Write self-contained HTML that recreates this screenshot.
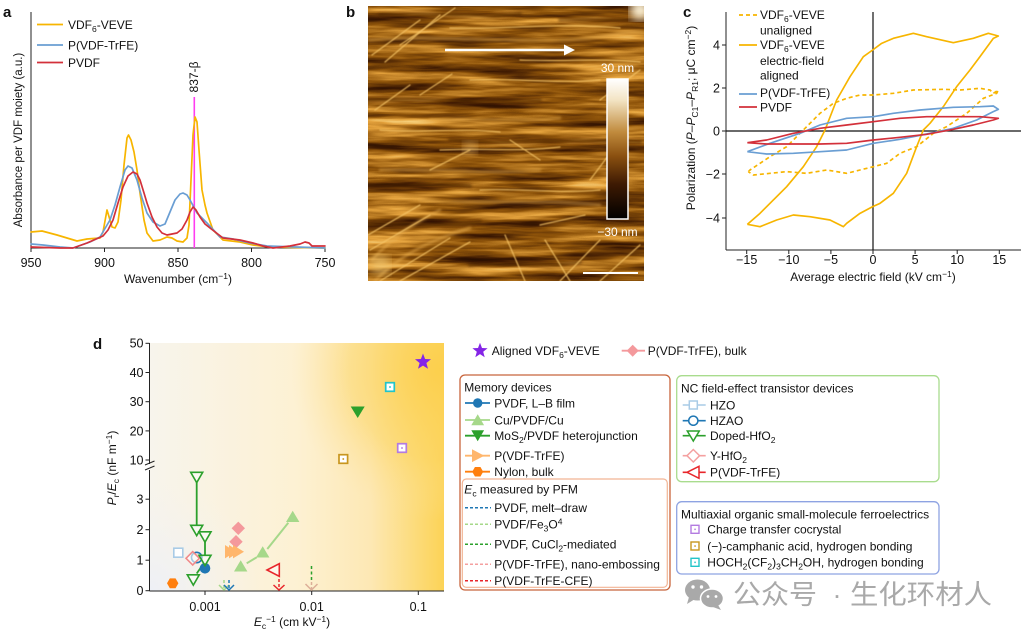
<!DOCTYPE html>
<html><head><meta charset="utf-8">
<style>
html,body{margin:0;padding:0;background:#fff;}
body{width:1026px;height:636px;overflow:hidden;}
svg{display:block;}
</style></head>
<body>
<svg width="1026" height="636" viewBox="0 0 1026 636" xmlns="http://www.w3.org/2000/svg" font-family="'Liberation Sans', Arial, sans-serif" font-size="12" fill="#111">
<defs>
  <filter id="afm" x="368" y="6" width="276" height="275" filterUnits="userSpaceOnUse" color-interpolation-filters="sRGB">
    <feTurbulence type="fractalNoise" baseFrequency="0.009 0.11" numOctaves="4" seed="7" result="n"/>
    <feColorMatrix in="n" type="matrix" values="1 0 0 0 0  1 0 0 0 0  1 0 0 0 0  0 0 0 0 1"/>
    <feComponentTransfer>
      <feFuncR type="table" tableValues="0.08 0.24 0.56 0.9 1"/>
      <feFuncG type="table" tableValues="0.02 0.10 0.33 0.64 0.9"/>
      <feFuncB type="table" tableValues="0 0.01 0.04 0.24 0.6"/>
    </feComponentTransfer>
  </filter>
  <filter id="blur1"><feGaussianBlur stdDeviation="0.6"/></filter>
  <filter id="blur2"><feGaussianBlur stdDeviation="1.2"/></filter>
  <filter id="blur6"><feGaussianBlur stdDeviation="5"/></filter>
  <clipPath id="bclip"><rect x="368" y="6" width="276" height="275"/></clipPath>
  <linearGradient id="cbar" x1="0" y1="0" x2="0" y2="1">
    <stop offset="0" stop-color="#ffffff"/>
    <stop offset="0.15" stop-color="#f3e4c4"/>
    <stop offset="0.38" stop-color="#c08a3c"/>
    <stop offset="0.55" stop-color="#8a5010"/>
    <stop offset="0.75" stop-color="#3e1a03"/>
    <stop offset="1" stop-color="#000000"/>
  </linearGradient>
  <linearGradient id="dbg" x1="0" y1="0" x2="1" y2="0">
    <stop offset="0" stop-color="#f7f4ec"/>
    <stop offset="0.5" stop-color="#fdf1d3"/>
    <stop offset="0.75" stop-color="#fde8b4"/>
    <stop offset="1" stop-color="#fcd356"/>
  </linearGradient>
  <radialGradient id="dtr" cx="440" cy="370" r="150" gradientUnits="userSpaceOnUse">
    <stop offset="0" stop-color="#fccf4c" stop-opacity="0.95"/>
    <stop offset="0.6" stop-color="#fcd562" stop-opacity="0.5"/>
    <stop offset="1" stop-color="#fde3a0" stop-opacity="0"/>
  </radialGradient>
  <radialGradient id="dbl" cx="150" cy="591" r="110" gradientUnits="userSpaceOnUse">
    <stop offset="0" stop-color="#eef0f6" stop-opacity="1"/>
    <stop offset="1" stop-color="#f4f2ee" stop-opacity="0"/>
  </radialGradient>
</defs>

<!-- ================= PANEL A ================= -->
<text x="3" y="17" font-weight="bold" font-size="15">a</text>
<text transform="translate(22,140) rotate(-90)" text-anchor="middle" font-size="11.5">Absorbance per VDF moiety (a.u.)</text>
<line x1="31" y1="12" x2="31" y2="248" stroke="#222" stroke-width="1"/>
<line x1="31" y1="248" x2="325" y2="248" stroke="#222" stroke-width="1"/>
<g stroke="#222" stroke-width="1">
  <line x1="31" y1="248" x2="31" y2="252"/>
  <line x1="104.5" y1="248" x2="104.5" y2="252"/>
  <line x1="178" y1="248" x2="178" y2="252"/>
  <line x1="251.5" y1="248" x2="251.5" y2="252"/>
  <line x1="325" y1="248" x2="325" y2="252"/>
</g>
<g text-anchor="middle" font-size="12.5">
  <text x="31" y="267">950</text>
  <text x="104.5" y="267">900</text>
  <text x="178" y="267">850</text>
  <text x="251.5" y="267">800</text>
  <text x="325" y="267">750</text>
</g>
<text x="178" y="283" text-anchor="middle">Wavenumber (cm<tspan dy="-4" font-size="8.5">−1</tspan><tspan dy="4">)</tspan></text>

<line x1="194.3" y1="97" x2="194.3" y2="248" stroke="#ff3df0" stroke-width="1.6"/>
<text transform="translate(198,77) rotate(-90)" text-anchor="middle" font-size="12">837-β</text>

<g fill="none" stroke-width="1.7" stroke-linejoin="round" stroke-linecap="round">
<polyline stroke="#f7b500" points="31,232 42,231 57,235 77,241 87,239 100,238 103,232 107,210 110,220 112,227 115,228 118,222 121,200 124,165 127,138 128.5,135 131,140 134,152 137,170 140,193 144,220 147,233 153,241 160,240 167,237 172,238 177,241 183,242 187,238 189,225 191,180 193,135 195,117 197,122 199,150 202,190 205,205 207,213 213,230 223,240 240,242 253,245 270,247 325,248"/>
<polyline stroke="#6a9ed3" points="31,244 43,245 60,247 73,248 90,242 100,237 110,220 115,205 120,187 125,170 128,166 132,168 137,180 142,198 147,213 153,222 160,226 165,224 170,212 175,200 180,194 183,193 187,195 190,200 197,213 207,223 220,237 233,239 250,243 267,246 325,248"/>
<polyline stroke="#d3303a" points="31,247 60,248 73,248 87,243 103,236 108,230 113,220 118,203 123,187 128,176 133,172 137,174 140,180 144,193 147,203 152,217 157,227 162,233 167,235 172,234 177,233 182,229 187,220 190,212 193,207 196,210 200,217 205,224 210,228 223,238 240,240 253,243 263,246 273,248 290,246 300,244 305,242 309,243 312,246 325,246"/>
</g>
<g stroke-width="1.8">
  <line x1="37" y1="24.5" x2="63" y2="24.5" stroke="#f7b500"/>
  <line x1="37" y1="45" x2="63" y2="45" stroke="#6a9ed3"/>
  <line x1="37" y1="62.5" x2="63" y2="62.5" stroke="#d3303a"/>
</g>
<text x="68" y="29">VDF<tspan dy="3" font-size="8.5">6</tspan><tspan dy="-3">-VEVE</tspan></text>
<text x="68" y="49.3">P(VDF-TrFE)</text>
<text x="68" y="66.8">PVDF</text>

<!-- ================= PANEL B ================= -->
<text x="346" y="17" font-weight="bold" font-size="15">b</text>
<rect x="368" y="6" width="276" height="275" fill="#8a5208"/>
<rect x="368" y="6" width="276" height="275" filter="url(#afm)"/>
<g clip-path="url(#bclip)" fill="none" stroke-linecap="round">
  <g stroke="#4a2404" stroke-opacity="0.5" stroke-width="4" filter="url(#blur2)">
    <path d="M368,100 C420,98 480,104 540,100"/>
    <path d="M450,140 C500,145 560,138 640,142"/>
    <path d="M368,225 C400,222 440,228 480,222"/>
    <path d="M560,20 C590,18 620,22 644,18"/>
    <path d="M380,15 C430,12 480,18 520,14"/>
    <path d="M470,265 C500,262 540,268 580,262"/>
    <path d="M368,185 C400,188 430,182 470,186"/>
  </g>
  <g stroke="#e8ac4c" stroke-opacity="0.6" stroke-width="2.6" filter="url(#blur2)">
    <path d="M368,40 C420,35 500,42 560,40 S620,30 644,32"/>
    <path d="M430,120 C470,118 520,122 560,118"/>
    <path d="M380,170 C430,168 480,175 540,170"/>
    <path d="M420,200 C470,205 530,198 600,205"/>
    <path d="M372,260 C390,240 410,225 440,210"/>
    <path d="M375,281 C400,255 430,240 470,228"/>
  </g>
  <g stroke="#f6c466" stroke-opacity="0.8" stroke-width="1.3" filter="url(#blur1)">
    <path d="M372,55 L420,20"/>
    <path d="M385,62 L440,15"/>
    <path d="M400,45 L455,8"/>
    <path d="M450,28 C500,30 560,22 620,28"/>
    <path d="M375,110 L410,85"/>
    <path d="M420,95 L452,74"/>
    <path d="M440,150 C480,148 520,152 560,147"/>
    <path d="M590,180 L620,140"/>
    <path d="M368,235 L420,205"/>
    <path d="M370,250 L430,215"/>
    <path d="M380,281 L450,238"/>
    <path d="M400,281 L470,242"/>
    <path d="M505,235 L525,281"/>
    <path d="M545,240 L570,281"/>
    <path d="M560,281 L600,240"/>
    <path d="M600,281 L640,245"/>
    <path d="M470,80 C520,78 560,84 600,80"/>
    <path d="M380,130 C420,133 460,128 500,132"/>
    <path d="M480,190 C520,188 560,194 600,190"/>
    <path d="M520,60 C560,62 600,58 640,62"/>
    <path d="M540,225 L585,215"/>
    <path d="M430,170 L470,150"/>
    <path d="M600,100 L640,70"/>
    <path d="M510,140 L540,160"/>
  </g>
  <circle cx="640" cy="10" r="10" fill="#fff6dc" filter="url(#blur6)"/>
  <circle cx="380" cy="265" r="10" fill="#f2c770" fill-opacity="0.7" filter="url(#blur6)"/>
  <circle cx="470" cy="148" r="7" fill="#e8b868" fill-opacity="0.6" filter="url(#blur6)"/>
</g>
<line x1="445" y1="50" x2="566" y2="50" stroke="#fff" stroke-width="2.5"/>
<polygon points="564,44.5 575,50 564,55.5" fill="#fff"/>
<rect x="607" y="79" width="21" height="140" fill="url(#cbar)" stroke="#fff" stroke-width="1.5"/>
<text x="617.5" y="72" text-anchor="middle" fill="#fff">30 nm</text>
<text x="617.5" y="236" text-anchor="middle" fill="#fff">−30 nm</text>
<line x1="583" y1="273" x2="638" y2="273" stroke="#fff" stroke-width="2"/>

<!-- ================= PANEL C ================= -->
<text x="683" y="17" font-weight="bold" font-size="15">c</text>
<text transform="translate(695,118) rotate(-90)" text-anchor="middle" font-size="12">Polarization (<tspan font-style="italic">P</tspan>–<tspan font-style="italic">P</tspan><tspan dy="3" font-size="8.5">C1</tspan><tspan dy="-3">–</tspan><tspan font-style="italic">P</tspan><tspan dy="3" font-size="8.5">R1</tspan><tspan dy="-3">; μC cm</tspan><tspan dy="-4" font-size="8.5">−2</tspan><tspan dy="4">)</tspan></text>
<line x1="726" y1="12" x2="726" y2="250" stroke="#222"/>
<line x1="726" y1="250" x2="1021" y2="250" stroke="#222"/>
<line x1="726" y1="131" x2="1021" y2="131" stroke="#111" stroke-width="1.2"/>
<line x1="873" y1="12" x2="873" y2="250" stroke="#111" stroke-width="1.2"/>
<g stroke="#222">
  <line x1="722" y1="45" x2="726" y2="45"/>
  <line x1="722" y1="88" x2="726" y2="88"/>
  <line x1="722" y1="131" x2="726" y2="131"/>
  <line x1="722" y1="174" x2="726" y2="174"/>
  <line x1="722" y1="218" x2="726" y2="218"/>
  <line x1="746.7" y1="250" x2="746.7" y2="254"/>
  <line x1="788.8" y1="250" x2="788.8" y2="254"/>
  <line x1="830.9" y1="250" x2="830.9" y2="254"/>
  <line x1="873" y1="250" x2="873" y2="254"/>
  <line x1="915.1" y1="250" x2="915.1" y2="254"/>
  <line x1="957.2" y1="250" x2="957.2" y2="254"/>
  <line x1="999.3" y1="250" x2="999.3" y2="254"/>
</g>
<g text-anchor="end" font-size="12.5">
  <text x="720" y="49.5">4</text>
  <text x="720" y="92.5">2</text>
  <text x="720" y="135.5">0</text>
  <text x="720" y="178.5">−2</text>
  <text x="720" y="222.5">−4</text>
</g>
<g text-anchor="middle" font-size="12.5">
  <text x="746.7" y="264">−15</text>
  <text x="788.8" y="264">−10</text>
  <text x="830.9" y="264">−5</text>
  <text x="873" y="264">0</text>
  <text x="915.1" y="264">5</text>
  <text x="957.2" y="264">10</text>
  <text x="999.3" y="264">15</text>
</g>
<text x="873" y="281" text-anchor="middle">Average electric field (kV cm<tspan dy="-4" font-size="8.5">−1</tspan><tspan dy="4">)</tspan></text>

<g transform="translate(660,0) scale(0.33333)" fill="none" stroke-linejoin="round" stroke-width="5">
  <polyline stroke="#f7b500" stroke-dasharray="12,9" points="265,515 270,510 330,470 380,440 430,390 480,340 520,310 560,295 600,285 640,285 700,280 760,270 850,268 900,270 960,265 990,270 1000,280 1015,270 1010,280 970,295 920,340 860,380 820,400 770,440 720,460 680,490 640,500 600,510 560,520 500,510 440,520 380,515 330,520 280,525 265,515"/>
  <polyline stroke="#f7b500" points="262,673 300,640 380,560 430,500 470,440 495,390 530,300 570,230 610,170 638,150 665,130 700,115 760,100 800,110 880,128 940,115 985,100 1015,108 1000,115 960,170 930,210 890,260 850,320 810,370 790,390 770,440 740,520 700,580 660,610 638,620 600,640 560,670 550,680 510,660 450,650 400,645 350,660 300,680 262,673"/>
  <polyline stroke="#6a9ed3" points="262,455 330,430 420,400 480,375 560,355 640,350 700,340 780,330 880,322 960,320 1000,318 1015,328 1000,335 950,360 880,385 800,402 720,418 640,430 560,450 480,455 400,460 320,462 262,455"/>
  <polyline stroke="#d3303a" points="262,428 320,420 400,400 480,385 560,375 640,365 720,355 800,350 880,350 960,350 1015,355 1000,360 940,375 880,388 800,403 720,412 640,420 560,430 480,432 400,432 320,432 262,428"/>
</g>
<g stroke-width="1.8">
  <line x1="739" y1="15" x2="757" y2="15" stroke="#f7b500" stroke-dasharray="4,3"/>
  <line x1="739" y1="45" x2="757" y2="45" stroke="#f7b500"/>
  <line x1="739" y1="94" x2="757" y2="94" stroke="#6a9ed3"/>
  <line x1="739" y1="107" x2="757" y2="107" stroke="#d3303a"/>
</g>
<text x="760" y="19">VDF<tspan dy="3" font-size="8.5">6</tspan><tspan dy="-3">-VEVE</tspan></text>
<text x="760" y="34.5">unaligned</text>
<text x="760" y="49">VDF<tspan dy="3" font-size="8.5">6</tspan><tspan dy="-3">-VEVE</tspan></text>
<text x="760" y="65">electric-field</text>
<text x="760" y="79.5">aligned</text>
<text x="760" y="97">P(VDF-TrFE)</text>
<text x="760" y="111.5">PVDF</text>

<!-- ================= PANEL D ================= -->
<text x="93" y="349" font-weight="bold" font-size="15">d</text>
<rect x="150" y="343" width="294" height="248" fill="url(#dbg)"/>
<rect x="150" y="343" width="294" height="248" fill="url(#dtr)"/>
<rect x="150" y="343" width="294" height="248" fill="url(#dbl)"/>

<g stroke="#222">
  <line x1="149.5" y1="343" x2="149.5" y2="464"/>
  <line x1="149.5" y1="470" x2="149.5" y2="591"/>
  <line x1="149.5" y1="591" x2="444" y2="591"/>
  <line x1="145" y1="465" x2="154.5" y2="461"/>
  <line x1="145" y1="470" x2="154.5" y2="466"/>
  <line x1="145.5" y1="343.3" x2="149.5" y2="343.3"/>
  <line x1="145.5" y1="372.5" x2="149.5" y2="372.5"/>
  <line x1="145.5" y1="401.7" x2="149.5" y2="401.7"/>
  <line x1="145.5" y1="430.9" x2="149.5" y2="430.9"/>
  <line x1="145.5" y1="460" x2="149.5" y2="460"/>
  <line x1="145.5" y1="499.2" x2="149.5" y2="499.2"/>
  <line x1="145.5" y1="529.7" x2="149.5" y2="529.7"/>
  <line x1="145.5" y1="560.2" x2="149.5" y2="560.2"/>
  <line x1="145.5" y1="590.7" x2="149.5" y2="590.7"/>
  <line x1="205" y1="591" x2="205" y2="595"/>
  <line x1="311.7" y1="591" x2="311.7" y2="595"/>
  <line x1="418.3" y1="591" x2="418.3" y2="595"/>
</g>
<g text-anchor="end" font-size="12.5">
  <text x="143.5" y="347.7">50</text>
  <text x="143.5" y="376.9">40</text>
  <text x="143.5" y="406.1">30</text>
  <text x="143.5" y="435.3">20</text>
  <text x="143.5" y="464.4">10</text>
  <text x="143.5" y="503.6">3</text>
  <text x="143.5" y="534.1">2</text>
  <text x="143.5" y="564.6">1</text>
  <text x="143.5" y="595.1">0</text>
</g>
<g text-anchor="middle" font-size="12.5">
  <text x="205" y="611">0.001</text>
  <text x="311.7" y="611">0.01</text>
  <text x="418.3" y="611">0.1</text>
</g>
<text x="292" y="626" text-anchor="middle"><tspan font-style="italic">E</tspan><tspan dy="3" font-size="8.5">c</tspan><tspan dy="-7" font-size="8.5">−1</tspan><tspan dy="4"> (cm kV</tspan><tspan dy="-4" font-size="8.5">−1</tspan><tspan dy="4">)</tspan></text>
<text transform="translate(116,468) rotate(-90)" text-anchor="middle"><tspan font-style="italic">P</tspan><tspan dy="3" font-size="8.5">r</tspan><tspan dy="-3">/</tspan><tspan font-style="italic">E</tspan><tspan dy="3" font-size="8.5">c</tspan><tspan dy="-3"> (nF m</tspan><tspan dy="-4" font-size="8.5">−1</tspan><tspan dy="4">)</tspan></text>

<!-- upper markers -->
<polygon points="423,353.5 425.1,359 431,359.3 426.4,363 428,368.8 423,365.6 418,368.8 419.6,363 415,359.3 420.9,359" fill="#8424e6"/>
<rect x="385.7" y="382.7" width="8.6" height="8.6" fill="#fff" stroke="#22c4c8" stroke-width="1.7"/><rect x="389.2" y="386.2" width="1.6" height="1.6" fill="#22c4c8"/>
<polygon points="350.7,406.5 364.7,406.5 357.7,418" fill="#2ca02c"/>
<rect x="397.7" y="443.7" width="8.6" height="8.6" fill="#fff" stroke="#b37be0" stroke-width="1.7"/><rect x="401.2" y="447.2" width="1.6" height="1.6" fill="#b37be0"/>
<rect x="339" y="454.7" width="8.6" height="8.6" fill="#fff" stroke="#c8961e" stroke-width="1.7"/><rect x="342.5" y="458.2" width="1.6" height="1.6" fill="#c8961e"/>

<!-- lower markers -->
<g stroke="#2ca02c" stroke-width="1.8" fill="none">
  <line x1="196.7" y1="482" x2="196.7" y2="526"/>
  <line x1="205" y1="542" x2="205" y2="556"/>
  <line x1="196.7" y1="573.5" x2="203.3" y2="564"/>
</g>
<rect x="173.8" y="548.2" width="9" height="9" fill="#fff" stroke="#a9cbe6" stroke-width="1.6"/>
<circle cx="196.7" cy="557.5" r="5.2" fill="none" stroke="#1f77b4" stroke-width="1.6"/>
<polygon points="186,558.3 192.7,551.6 199.4,558.3 192.7,565" fill="#fff" fill-opacity="0.6" stroke="#f08a8a" stroke-width="1.6"/>
<circle cx="205" cy="568.3" r="5.3" fill="#1f77b4"/>
<g fill="#fff" fill-opacity="0.5" stroke="#2ca02c" stroke-width="1.6">
  <polygon points="190.7,472.3 202.7,472.3 196.7,482.7"/>
  <polygon points="190.7,525.3 202.7,525.3 196.7,535.7"/>
  <polygon points="199,531.8 211,531.8 205,542.2"/>
  <polygon points="199,555.3 211,555.3 205,565.7"/>
  <polygon points="187.3,574.8 199.3,574.8 193.3,585.2"/>
</g>
<polygon points="167,583.3 169.85,578.4 175.55,578.4 178.4,583.3 175.55,588.2 169.85,588.2" fill="#ff7f0e"/>
<polygon points="238.3,521.6 245,528.3 238.3,535 231.6,528.3" fill="#f4999c"/>
<polygon points="236,535 242.7,541.7 236,548.4 229.3,541.7" fill="#f4999c"/>
<g fill="#ffb66c">
  <polygon points="225,545 225,558.4 235.5,551.7"/>
  <polygon points="229,545 229,558.4 239.5,551.7"/>
  <polygon points="233,545 233,558.4 244,551.7"/>
</g>
<g stroke="#a6d88a" stroke-width="2">
  <line x1="246.7" y1="563.3" x2="256.7" y2="557.3"/>
  <line x1="267.3" y1="549" x2="288.3" y2="522.7"/>
</g>
<g fill="#a6d88a">
  <polygon points="234,571.5 247.4,571.5 240.7,560.3"/>
  <polygon points="256,557.5 269.4,557.5 262.7,546.3"/>
  <polygon points="286,522 299.4,522 292.7,510.8"/>
</g>
<polygon points="267,570 279.3,563.7 279.3,576.3" fill="#fff" fill-opacity="0.5" stroke="#e8262b" stroke-width="1.6"/>
<!-- PFM arrows -->
<g fill="none" stroke-width="1.5">
  <line x1="224" y1="580" x2="224" y2="590" stroke="#a6d88a" stroke-dasharray="3,2"/>
  <polyline points="219,585 224,590 229,585" stroke="#a6d88a"/>
  <line x1="229" y1="580" x2="229" y2="590" stroke="#1f77b4" stroke-dasharray="3,2"/>
  <polyline points="224,585 229,590 234,585" stroke="#1f77b4"/>
  <line x1="279" y1="579" x2="279" y2="590" stroke="#e8262b" stroke-dasharray="3,2"/>
  <polyline points="273.5,585 279,590 284.5,585" stroke="#e8262b"/>
  <line x1="311.5" y1="566" x2="311.5" y2="582" stroke="#2ca02c" stroke-dasharray="3,2.5"/>
  <line x1="311.5" y1="582" x2="311.5" y2="590" stroke="#dcae98" stroke-dasharray="3,2"/>
  <polyline points="305.5,584 311.5,590 317.5,584" stroke="#dcae98"/>
</g>

<!-- ===== Legend d ===== -->
<polygon points="480,342.7 482,347.95 487.6,348.2 483.2,351.75 484.7,357.2 480,354.1 475.3,357.2 476.8,351.75 472.4,348.2 478,347.95" fill="#8424e6"/>
<text x="491.7" y="355">Aligned VDF<tspan dy="3" font-size="8.5">6</tspan><tspan dy="-3">-VEVE</tspan></text>
<line x1="621.7" y1="350.7" x2="645" y2="350.7" stroke="#f4999c" stroke-width="1.8"/>
<polygon points="632.7,344.7 638.7,350.7 632.7,356.7 626.7,350.7" fill="#f4999c"/>
<text x="647.7" y="355">P(VDF-TrFE), bulk</text>

<rect x="460" y="375" width="210" height="215" rx="5" fill="none" stroke="#c8653c" stroke-width="1.3"/>
<rect x="462.3" y="479" width="205" height="108.3" rx="4" fill="none" stroke="#f2b494" stroke-width="1.2"/>
<text x="464.3" y="391.5">Memory devices</text>
<g stroke-width="1.8">
  <line x1="465" y1="403" x2="490" y2="403" stroke="#1f77b4"/>
  <line x1="465" y1="420" x2="490" y2="420" stroke="#a6d88a"/>
  <line x1="465" y1="435.7" x2="490" y2="435.7" stroke="#2ca02c"/>
  <line x1="465" y1="455.7" x2="490" y2="455.7" stroke="#ffb66c"/>
  <line x1="465" y1="471.7" x2="490" y2="471.7" stroke="#ff7f0e"/>
</g>
<circle cx="477.7" cy="403" r="4.7" fill="#1f77b4"/>
<polygon points="471.3,425.3 484.1,425.3 477.7,414.3" fill="#a6d88a"/>
<polygon points="471.3,430.3 484.1,430.3 477.7,441.3" fill="#2ca02c"/>
<polygon points="472,449.3 472,462.1 484.3,455.7" fill="#ffb66c"/>
<polygon points="483.2,471.7 480.45,476.46 474.95,476.46 472.2,471.7 474.95,466.94 480.45,466.94" fill="#ff7f0e"/>
<text x="494.3" y="407.3">PVDF, L–B film</text>
<text x="494.3" y="424.3">Cu/PVDF/Cu</text>
<text x="494.3" y="440">MoS<tspan dy="3" font-size="8.5">2</tspan><tspan dy="-3">/PVDF heterojunction</tspan></text>
<text x="494.3" y="460">P(VDF-TrFE)</text>
<text x="494.3" y="476">Nylon, bulk</text>

<text x="464.3" y="493.6"><tspan font-style="italic">E</tspan><tspan dy="3" font-size="8.5">c</tspan><tspan dy="-3"> measured by PFM</tspan></text>
<g stroke-width="1.5" stroke-dasharray="3,2">
  <line x1="465" y1="507.7" x2="491" y2="507.7" stroke="#1f77b4"/>
  <line x1="465" y1="524.3" x2="491" y2="524.3" stroke="#a6d88a"/>
  <line x1="465" y1="544.3" x2="491" y2="544.3" stroke="#2ca02c"/>
  <line x1="465" y1="564.3" x2="491" y2="564.3" stroke="#f4a0a0"/>
  <line x1="465" y1="580.7" x2="491" y2="580.7" stroke="#e8262b"/>
</g>
<text x="494.3" y="512">PVDF, melt–draw</text>
<text x="494.3" y="528.6">PVDF/Fe<tspan dy="3" font-size="8.5">3</tspan><tspan dy="-3">O</tspan><tspan dy="-4" font-size="8.5">4</tspan></text>
<text x="494.3" y="548.6">PVDF, CuCl<tspan dy="3" font-size="8.5">2</tspan><tspan dy="-3">-mediated</tspan></text>
<text x="494.3" y="568.6">P(VDF-TrFE), nano-embossing</text>
<text x="494.3" y="585">P(VDF-TrFE-CFE)</text>

<rect x="676.7" y="375.7" width="262.3" height="106" rx="5" fill="none" stroke="#a9dc8e" stroke-width="1.3"/>
<text x="681" y="392.6">NC field-effect transistor devices</text>
<g stroke-width="1.6">
  <line x1="682.7" y1="405" x2="705.7" y2="405" stroke="#a9cbe6"/>
  <line x1="682.7" y1="420.7" x2="705.7" y2="420.7" stroke="#1f77b4"/>
  <line x1="682.7" y1="435.7" x2="705.7" y2="435.7" stroke="#2ca02c"/>
  <line x1="682.7" y1="455.7" x2="705.7" y2="455.7" stroke="#f4a0a0"/>
  <line x1="682.7" y1="472.3" x2="705.7" y2="472.3" stroke="#e8262b"/>
</g>
<rect x="689.3" y="401" width="8" height="8" fill="#fff" stroke="#a9cbe6" stroke-width="1.5"/>
<circle cx="693.3" cy="420.7" r="4.6" fill="#fff" stroke="#1f77b4" stroke-width="1.5"/>
<polygon points="687.3,431 699.3,431 693.3,441" fill="#fff" stroke="#2ca02c" stroke-width="1.5"/>
<polygon points="687,455.7 693.3,449.5 699.6,455.7 693.3,462" fill="#fff" stroke="#f4a0a0" stroke-width="1.5"/>
<polygon points="687,472.3 699,466.3 699,478.3" fill="#fff" stroke="#e8262b" stroke-width="1.5"/>
<text x="710" y="409.3">HZO</text>
<text x="710" y="425">HZAO</text>
<text x="710" y="440">Doped-HfO<tspan dy="3" font-size="8.5">2</tspan></text>
<text x="710" y="460">Y-HfO<tspan dy="3" font-size="8.5">2</tspan></text>
<text x="710" y="476.6">P(VDF-TrFE)</text>

<rect x="676.7" y="501.7" width="262.3" height="72.3" rx="5" fill="none" stroke="#8ea3e2" stroke-width="1.3"/>
<text x="681" y="518.6">Multiaxial organic small-molecule ferroelectrics</text>
<rect x="691" y="525.3" width="8" height="8" fill="#fff" stroke="#b37be0" stroke-width="1.4"/><rect x="694.3" y="528.6" width="1.5" height="1.5" fill="#b37be0"/>
<rect x="691" y="542" width="8" height="8" fill="#fff" stroke="#c8961e" stroke-width="1.4"/><rect x="694.3" y="545.3" width="1.5" height="1.5" fill="#c8961e"/>
<rect x="691" y="558.3" width="8" height="8" fill="#fff" stroke="#22c4c8" stroke-width="1.4"/><rect x="694.3" y="561.6" width="1.5" height="1.5" fill="#22c4c8"/>
<text x="707.3" y="533.6">Charge transfer cocrystal</text>
<text x="707.3" y="550.3">(−)-camphanic acid, hydrogen bonding</text>
<text x="707.3" y="566.6">HOCH<tspan dy="3" font-size="8.5">2</tspan><tspan dy="-3">(CF</tspan><tspan dy="3" font-size="8.5">2</tspan><tspan dy="-3">)</tspan><tspan dy="3" font-size="8.5">3</tspan><tspan dy="-3">CH</tspan><tspan dy="3" font-size="8.5">2</tspan><tspan dy="-3">OH, hydrogen bonding</tspan></text>

<!-- watermark -->
<g fill="#a9a9a9">
  <ellipse cx="697.5" cy="590" rx="12.5" ry="10.5"/>
  <polygon points="689,597 687,604 695,599"/>
  <ellipse cx="712" cy="598.5" rx="11.5" ry="9.5" stroke="#fff" stroke-width="1.5"/>
  <polygon points="718,605 721,610 713,607"/>
</g>
<g fill="#fff">
  <circle cx="693" cy="587" r="1.7"/><circle cx="701.5" cy="587" r="1.7"/>
  <circle cx="708" cy="596.5" r="1.4"/><circle cx="716" cy="596.5" r="1.4"/>
</g>
<g fill="#a9a9a9" font-family="'Liberation Sans', 'Noto Sans CJK SC', 'WenQuanYi Zen Hei', sans-serif" font-size="27">
  <text x="733" y="604" textLength="84" lengthAdjust="spacingAndGlyphs">公众号</text>
  <text x="837" y="604" text-anchor="middle">·</text>
  <text x="850" y="604" textLength="142" lengthAdjust="spacingAndGlyphs">生化环材人</text>
</g>
</svg>
</body></html>
